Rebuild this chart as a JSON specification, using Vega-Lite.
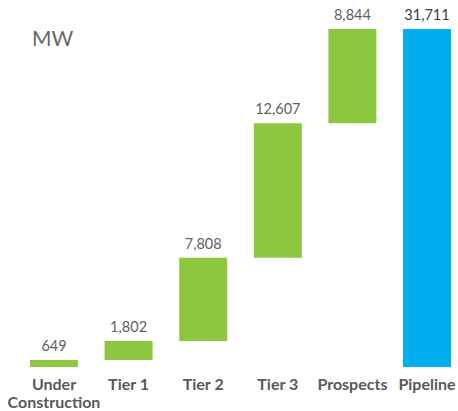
{
  "$schema": "https://vega.github.io/schema/vega-lite/v6.json",
  "width": 421,
  "height": 338,
  "autosize": {"type": "none"},
  "padding": {"left": 30, "right": 7, "top": 29, "bottom": 44},
  "background": "white",
  "config": {"view": {"stroke": null}, "font": "Lato"},
  "title": {
    "text": "MW",
    "anchor": "start",
    "frame": "group",
    "orient": "top",
    "offset": 0,
    "dx": 2,
    "dy": 42,
    "fontSize": 21,
    "fontWeight": "normal",
    "color": "#666666",
    "font": "Lato"
  },
  "data": {
    "values": [
      {"category": "Under Construction", "start": 0, "end": 649, "value": 649, "kind": "step"},
      {"category": "Tier 1", "start": 649, "end": 2451, "value": 1802, "kind": "step"},
      {"category": "Tier 2", "start": 2451, "end": 10259, "value": 7808, "kind": "step"},
      {"category": "Tier 3", "start": 10259, "end": 22866, "value": 12607, "kind": "step"},
      {"category": "Prospects", "start": 22866, "end": 31710, "value": 8844, "kind": "step"},
      {"category": "Pipeline", "start": 0, "end": 31711, "value": 31711, "kind": "total"}
    ]
  },
  "encoding": {
    "x": {
      "field": "category",
      "type": "nominal",
      "sort": null,
      "scale": {"paddingInner": 0.357, "paddingOuter": 0},
      "axis": {
        "title": null,
        "domain": false,
        "ticks": false,
        "labelAngle": 0,
        "labelPadding": 9,
        "labelFontSize": 16,
        "labelFontWeight": "bold",
        "labelColor": "#595959",
        "labelLineHeight": 18,
        "labelFont": "Lato",
        "labelExpr": "datum.value == 'Under Construction' ? ['Under', 'Construction'] : datum.value"
      }
    }
  },
  "layer": [
    {
      "mark": {"type": "bar"},
      "encoding": {
        "y": {
          "field": "start",
          "type": "quantitative",
          "scale": {"domain": [0, 31711], "nice": false, "zero": true},
          "axis": null
        },
        "y2": {"field": "end"},
        "color": {
          "field": "kind",
          "type": "nominal",
          "scale": {"domain": ["step", "total"], "range": ["#8DC63F", "#00AEEF"]},
          "legend": null
        }
      }
    },
    {
      "mark": {"type": "text", "baseline": "bottom", "dy": -6, "fontSize": 14.5, "font": "Lato"},
      "encoding": {
        "y": {"field": "end", "type": "quantitative"},
        "text": {"field": "value", "type": "quantitative", "format": ","},
        "fontWeight": {
          "condition": {"test": "datum.kind == 'total'", "value": "bold"},
          "value": "normal"
        },
        "color": {
          "condition": {"test": "datum.kind == 'total'", "value": "#404040"},
          "value": "#5f5f5f"
        }
      }
    }
  ]
}
